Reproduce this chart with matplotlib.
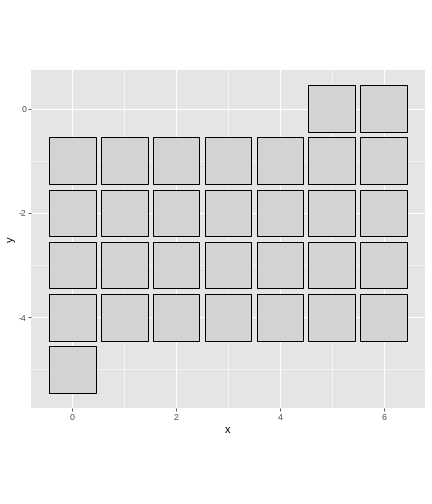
import matplotlib
matplotlib.use('Agg')
import matplotlib.pyplot as plt
from matplotlib.patches import Rectangle

# tile positions (waffle layout)
x_vals = [5, 6] + [0, 1, 2, 3, 4, 5, 6] * 4 + [0]
y_vals = [0, 0] + [-1] * 7 + [-2] * 7 + [-3] * 7 + [-4] * 7 + [-5]
x_ticks = [0, 2, 4, 6]
y_ticks = [0, -2, -4]

plt.rcParams['font.family'] = ['Liberation Sans', 'DejaVu Sans']
plt.rcParams['axes.unicode_minus'] = False


def draw_graph() -> None:
    fig = plt.figure(figsize=(6, 7), dpi=72)
    ax = fig.add_axes([31 / 432, 1 - 408 / 504, 394 / 432, 338 / 504])
    ax.set_facecolor('#E5E5E5')

    w = 0.9
    for x, y in zip(x_vals, y_vals):
        ax.add_patch(Rectangle((x - w / 2, y - w / 2), w, w,
                               facecolor='#D3D3D3', edgecolor='black',
                               linewidth=1.0, zorder=3))

    ax.set_xlim(-0.795, 6.795)
    ax.set_ylim(-5.745, 0.745)

    ax.set_xticks(x_ticks)
    ax.set_yticks(y_ticks)
    ax.set_xticks([1, 3, 5], minor=True)
    ax.set_yticks([-1, -3, -5], minor=True)
    ax.grid(which='major', color='white', linewidth=1.1, zorder=1)
    ax.grid(which='minor', color='white', linewidth=0.55, zorder=1)
    ax.set_axisbelow(True)

    for s in ax.spines.values():
        s.set_visible(False)
    ax.tick_params(which='major', length=2.7, width=0.8, color='#333333',
                   labelcolor='#4D4D4D', labelsize=8.8, pad=2)
    ax.tick_params(which='minor', length=0)

    ax.set_xlabel('x', fontsize=11, labelpad=3)
    ax.set_ylabel('y', fontsize=11, labelpad=3)

    fig.savefig('out.png', dpi=72)


def main() -> None:
    draw_graph()


if __name__ == '__main__':
    main()
